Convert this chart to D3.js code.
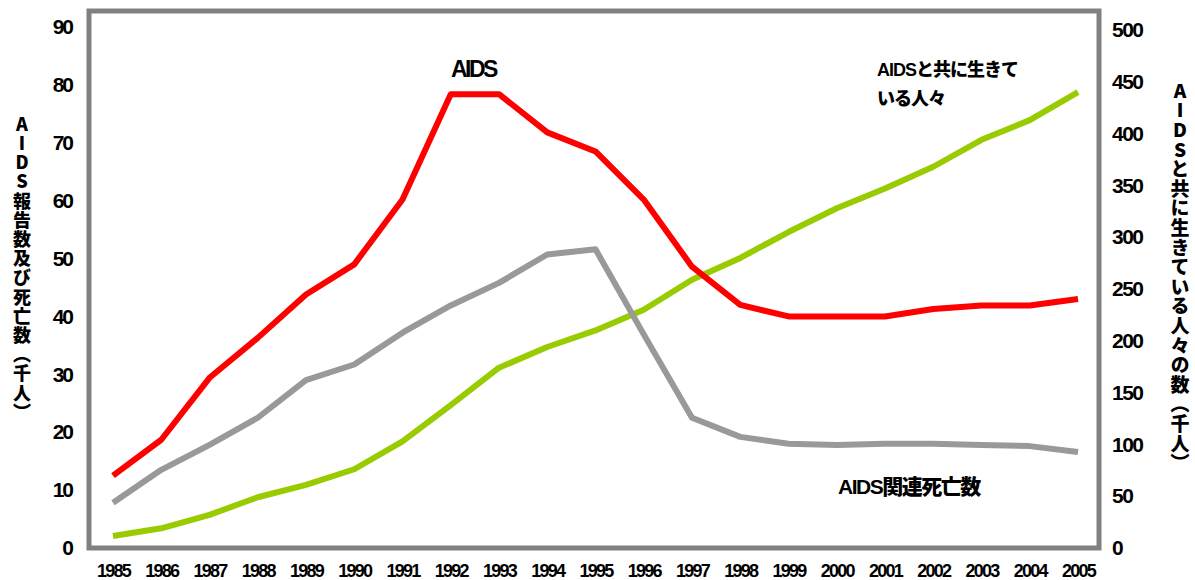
<!DOCTYPE html>
<html>
<head>
<meta charset="utf-8">
<script src="https://cdn.jsdelivr.net/npm/d3@7"></script>
<style>
  body { margin: 0; background: #fff; }
  #chart { position: relative; width: 1195px; height: 580px; }
  svg { position: absolute; left: 0; top: 0; }
  text { font-family: "Liberation Sans", "Noto Sans CJK JP", sans-serif; font-weight: bold; fill: #000; }
  .jp { font-family: "Liberation Sans", "Noto Sans CJK JP", sans-serif; font-weight: 900; }
  .vt {
    position: absolute;
    font-family: "Noto Sans CJK JP", sans-serif;
    font-weight: 900;
    line-height: 1;
    color: #000;
    writing-mode: vertical-rl;
    text-orientation: upright;
    white-space: nowrap;
  }
</style>
</head>
<body>
<div id="chart"></div>
<script>
// years on the x axis
var years = d3.range(1985, 2006);

// AIDS reported cases (thousands, left axis)
var aidsCases = [12.5, 18.7, 29.4, 36.3, 43.8, 49, 60.2, 78.4, 78.4, 71.8, 68.5,
                 60.2, 48.6, 42, 40, 40, 40, 41.3, 41.9, 41.9, 43];

// AIDS related deaths (thousands, left axis)
var aidsDeaths = [7.8, 13.5, 17.8, 22.5, 29, 31.7, 37.2, 41.9, 45.8, 50.7, 51.6,
                  36.9, 22.5, 19.2, 18, 17.8, 18, 18, 17.8, 17.6, 16.6];

// people living with AIDS (thousands, right axis)
var aidsLiving = [11.6, 19, 32, 49, 61, 76, 103, 138, 174, 194, 210,
                  230, 259, 280, 305, 328, 347, 368, 394, 413, 440];

var leftTicks = d3.range(0, 91, 10);
var rightTicks = d3.range(0, 501, 50);

var leftTitle = "AIDS報告数及び死亡数（千人）";
var rightTitle = "AIDSと共に生きている人々の数（千人）";

var width = 1195,
	height = 580;

var chart = d3.select("#chart");

var svg = chart.append("svg")
	.attr("width", width)
	.attr("height", height);

var x = d3.scaleLinear().domain([1985, 2005]).range([113, 1078]);
var yL = d3.scaleLinear().domain([0, 90]).range([548, 27]);
var yR = d3.scaleLinear().domain([0, 500]).range([548, 30]);

// plot frame
svg.append("rect")
	.attr("x", 89)
	.attr("y", 11)
	.attr("width", 1010)
	.attr("height", 537)
	.attr("fill", "none")
	.attr("stroke", "#808080")
	.attr("stroke-width", 5);

// left axis labels
var axisL = svg.append("g")
	.attr("transform", "translate(89,0)")
	.call(d3.axisLeft(yL).tickValues(leftTicks).tickSize(0).tickPadding(17));
axisL.select(".domain").remove();
axisL.selectAll("text")
	.attr("font-size", 21)
	.attr("letter-spacing", -2)
	.attr("font-family", null);

// right axis labels
var axisR = svg.append("g")
	.attr("transform", "translate(1099,0)")
	.call(d3.axisRight(yR).tickValues(rightTicks).tickSize(0).tickPadding(13));
axisR.select(".domain").remove();
axisR.selectAll("text")
	.attr("font-size", 21)
	.attr("letter-spacing", -1.5)
	.attr("font-family", null);

// bottom axis labels
var axisB = svg.append("g")
	.attr("transform", "translate(0,548)")
	.call(d3.axisBottom(x).tickValues(years).tickFormat(d3.format("d")).tickSize(0).tickPadding(16));
axisB.select(".domain").remove();
axisB.selectAll("text")
	.attr("font-size", 18)
	.attr("letter-spacing", -1.8)
	.attr("font-family", null);

// series lines
var series = [
	{ values: aidsLiving, scale: yR, color: "#99cc00" },
	{ values: aidsDeaths, scale: yL, color: "#999999" },
	{ values: aidsCases, scale: yL, color: "#ff0000" }
];

series.forEach(function(s) {
	var line = d3.line()
		.x(function(d, i) { return x(years[i]); })
		.y(function(d) { return s.scale(d); });

	svg.append("path")
		.datum(s.values)
		.attr("fill", "none")
		.attr("stroke", s.color)
		.attr("stroke-width", 6)
		.attr("stroke-linejoin", "round")
		.attr("d", line);
});

// in-chart labels
svg.append("text").attr("class", "jp")
	.attr("x", 451).attr("y", 77)
	.attr("font-size", 23).attr("letter-spacing", -2.5)
	.text("AIDS");

svg.append("text").attr("class", "jp")
	.attr("x", 877).attr("y", 76)
	.attr("font-size", 18).attr("letter-spacing", -1)
	.text("AIDSと共に生きて");

svg.append("text").attr("class", "jp")
	.attr("x", 877).attr("y", 105)
	.attr("font-size", 18).attr("letter-spacing", -1)
	.text("いる人々");

svg.append("text").attr("class", "jp")
	.attr("x", 838).attr("y", 494)
	.attr("font-size", 21).attr("letter-spacing", -1.5)
	.text("AIDS関連死亡数");

// vertical axis titles (html, so the browser does the vertical writing)
chart.append("div").attr("class", "vt")
	.style("left", (22 - 9) + "px")
	.style("top", "115px")
	.style("font-size", "18px")
	.style("letter-spacing", "1.2px")
	.text(leftTitle);

chart.append("div").attr("class", "vt")
	.style("left", (1180 - 9.5) + "px")
	.style("top", "81px")
	.style("font-size", "19px")
	.style("letter-spacing", "0.6px")
	.text(rightTitle);
</script>
</body>
</html>
